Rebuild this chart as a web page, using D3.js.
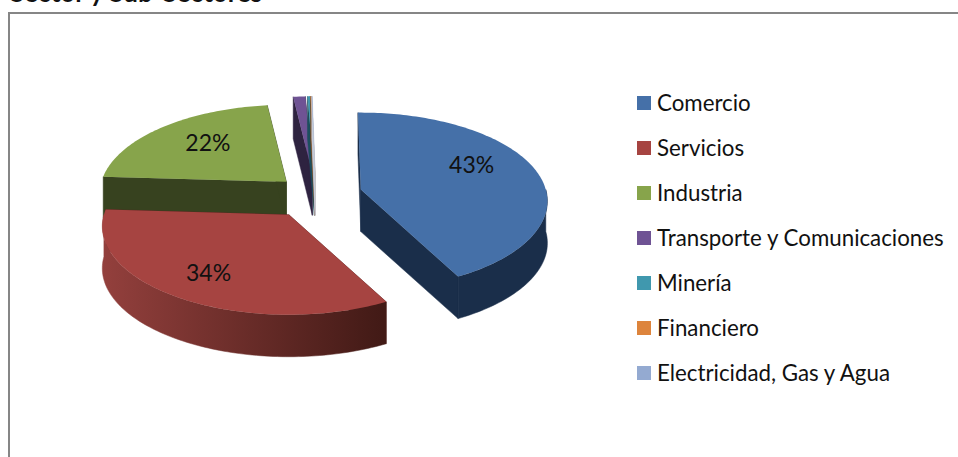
<!DOCTYPE html>
<html>
<head>
<meta charset="utf-8">
<script src="https://cdn.jsdelivr.net/npm/d3@7"></script>
<style>
  body { margin: 0; background: #fff; overflow: hidden; }
  text { font-family: Lato, "Open Sans", sans-serif; fill: #111; }
</style>
</head>
<body>
<div id="chart"></div>
<script>
var sectores = ["Comercio", "Servicios", "Industria", "Transporte y Comunicaciones", "Minería", "Financiero", "Electricidad, Gas y Agua"];
var valores = [43, 34, 22.4, 1.2, 0.25, 0.1, 0.05];
var colores = ["#4570a8", "#a64441", "#87a44b", "#6f5394", "#4098ae", "#dd843c", "#94aad1"];
var coloresPared = ["#1a2e4a", "#5e2523", "#37421f", "#2e2340", "#1c4f5e", "#7a4a20", "#c5cbd8"];
// how far out each slice is pulled from the middle
var separacion = [0.25, 0.27, 0.22, 0.25, 0.25, 0.25, 0.25];
// how far out along the slice the % label sits, and its turn off the middle angle in degrees
var radioEtiqueta = [0.663, 0.8, 0.615, 0, 0, 0, 0];
var giroEtiqueta = [-11, 0, 3, 0, 0, 0, 0];

var width = 958, height = 457,
    cx = 316, cy = 195,
    rx = 185, ry = 87,
    grosor = 42,
    persp = 0.13;

var svg = d3.select("#chart").append("svg")
    .attr("width", width)
    .attr("height", height);

// chart frame, runs off the right and bottom of the picture
svg.append("path")
    .attr("d", "M9,457V13H958")
    .attr("fill", "none")
    .attr("stroke", "#868686")
    .attr("stroke-width", 2);

// title is cut off at the top of the picture
svg.append("text")
    .attr("x", 10)
    .attr("y", 1.5)
    .style("font-size", "26px")
    .style("font-weight", "bold")
    .text("Sector y Sub-Sectores");

var defs = svg.append("defs");
var grad = defs.append("linearGradient")
    .attr("id", "paredRoja")
    .attr("gradientUnits", "userSpaceOnUse")
    .attr("x1", 100).attr("x2", 382).attr("y1", 0).attr("y2", 0);
grad.append("stop").attr("offset", 0).attr("stop-color", "#94403d");
grad.append("stop").attr("offset", 1).attr("stop-color", "#421a16");

// the pieces are pulled apart so the sweep can run a touch over the full turn
var pie = d3.pie().sort(null).startAngle(-1 * Math.PI / 180).endAngle(361 * Math.PI / 180);
var arcs = pie(valores);

// apex of a slice on the screen, pushed out along its middle angle
function apex(d) {
    var m = (d.startAngle + d.endAngle) / 2,
        e = separacion[d.index];
    return [cx + e * rx * Math.sin(m), cy - e * ry * Math.cos(m)];
}

// point on the rim of the slice at angle a, with some perspective
function rim(d, a) {
    var o = apex(d),
        u = Math.sin(a),
        v = -Math.cos(a),
        p = 1 / (1 - persp * v);
    return [o[0] + rx * u * p, o[1] + ry * v * p];
}

function rimPoints(d, a0, a1) {
    var n = Math.max(2, Math.ceil((a1 - a0) / 0.02));
    return d3.range(n + 1).map(function(i) { return rim(d, a0 + (a1 - a0) * i / n); });
}

var line = d3.line();

function down(pts) {
    return pts.map(function(q) { return [q[0], q[1] + grosor]; });
}

function cutWall(d, a) {
    var r = rim(d, a), o = apex(d);
    return line([r, o, [o[0], o[1] + grosor], [r[0], r[1] + grosor]]) + "Z";
}

// outer wall, only the part at the front can be seen
function outerWall(d) {
    var a0 = Math.max(d.startAngle, Math.PI / 2),
        a1 = Math.min(d.endAngle, 3 * Math.PI / 2);
    if (a1 <= a0) return null;
    var pts = rimPoints(d, a0, a1);
    return line(pts.concat(down(pts).reverse())) + "Z";
}

function topFace(d) {
    return line([apex(d)].concat(rimPoints(d, d.startAngle, d.endAngle))) + "Z";
}

// paint back to front
var orden = [3, 4, 5, 6, 2, 1, 0];
var slices = svg.append("g").selectAll("g")
    .data(orden.map(function(i) { return arcs[i]; }))
    .enter().append("g");

function paredColor(d) { return coloresPared[d.index]; }

slices.append("path")
    .attr("d", function(d) { return cutWall(d, d.startAngle); })
    .attr("fill", paredColor)
    .attr("stroke", paredColor)
    .attr("stroke-width", 0.5);
slices.append("path")
    .attr("d", function(d) { return cutWall(d, d.endAngle); })
    .attr("fill", paredColor)
    .attr("stroke", paredColor)
    .attr("stroke-width", 0.5);
slices.append("path")
    .attr("d", outerWall)
    .attr("fill", function(d) { return d.index == 1 ? "url(#paredRoja)" : coloresPared[d.index]; })
    .attr("stroke", function(d) { return d.index == 1 ? "url(#paredRoja)" : coloresPared[d.index]; })
    .attr("stroke-width", 0.5);
slices.append("path")
    .attr("d", topFace)
    .attr("fill", function(d) { return colores[d.index]; });

// % labels
svg.append("g").selectAll("text")
    .data(arcs.filter(function(d) { return radioEtiqueta[d.index] > 0; }))
    .enter().append("text")
    .attr("text-anchor", "middle")
    .attr("dy", "0.35em")
    .style("font-size", "23px")
    .attr("transform", function(d) {
        var m = (d.startAngle + d.endAngle) / 2 + giroEtiqueta[d.index] * Math.PI / 180,
            o = apex(d),
            k = radioEtiqueta[d.index];
        return "translate(" + (o[0] + k * rx * Math.sin(m)) + "," + (o[1] - k * ry * Math.cos(m)) + ")";
    })
    .text(function(d) { return d3.format(".0%")(d.data / 100); });

// legend
var ley = d3.scalePoint().domain(sectores).range([103, 373]);
var legend = svg.append("g").selectAll("g")
    .data(sectores)
    .enter().append("g")
    .attr("transform", function(d) { return "translate(637," + ley(d) + ")"; });
legend.append("rect")
    .attr("y", -7)
    .attr("width", 14)
    .attr("height", 14)
    .attr("fill", function(d, i) { return colores[i]; });
legend.append("text")
    .attr("x", 20)
    .attr("dy", "0.35em")
    .style("font-size", "22.3px")
    .text(function(d) { return d; });
</script>
</body>
</html>
